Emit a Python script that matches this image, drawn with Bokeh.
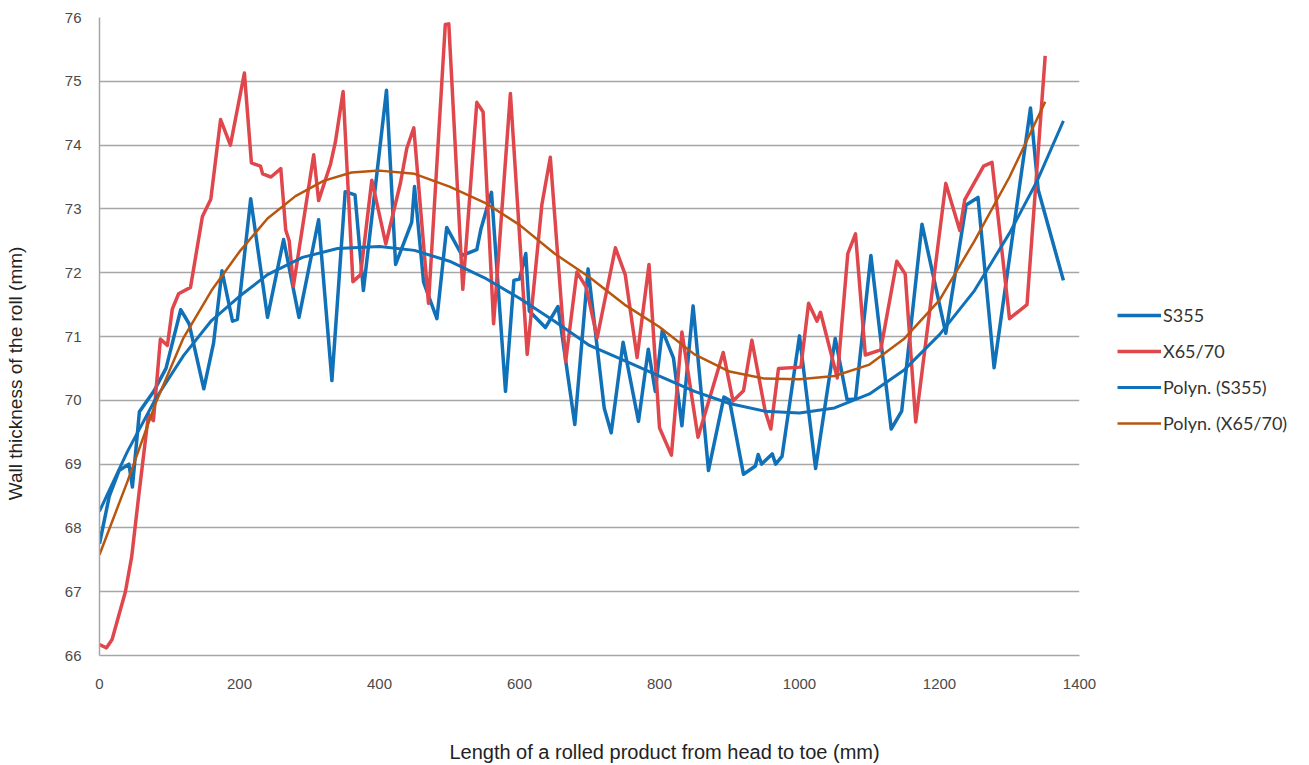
from bokeh.plotting import figure
from bokeh.layouts import row
from bokeh.models import Legend, LegendItem, FixedTicker, Range1d
from bokeh.embed import file_html
from bokeh.resources import INLINE

# S355 measured wall thickness
s355_x = [0, 14, 28, 42, 47, 57, 78, 95, 116, 128, 149, 163, 175, 190, 197, 216, 240, 263, 285,
          313, 332, 351, 365, 377, 410, 423, 446, 450, 463, 482, 496, 518, 539, 545, 560, 580,
          592, 600, 609, 614, 637, 655, 679, 698, 721, 731, 748, 770, 784, 794, 804, 820, 832,
          848, 870, 892, 900, 920, 937, 941, 946, 961, 966, 975, 1000, 1023, 1051, 1068, 1080,
          1102, 1131, 1146, 1175, 1209, 1238, 1255, 1278, 1330, 1341, 1377]
s355_y = [67.75, 68.5, 68.9, 69.0, 68.64, 69.82, 70.15, 70.5, 71.42, 71.2, 70.18, 70.9, 72.03,
          71.24, 71.27, 73.16, 71.3, 72.52, 71.3, 72.83, 70.31, 73.27, 73.22, 71.72, 74.86, 72.13,
          72.79, 73.35, 71.85, 71.28, 72.71, 72.27, 72.36, 72.69, 73.26, 70.14, 71.88, 71.9, 72.3,
          71.4, 71.14, 71.47, 69.62, 72.06, 69.88, 69.49, 70.91, 69.67, 70.8, 70.14, 71.1, 70.66,
          69.6, 71.48, 68.9, 70.05, 70.0, 68.84, 68.97, 69.15, 69.0, 69.16, 69.0, 69.12, 71.01,
          68.93, 70.97, 70.01, 70.02, 72.27, 69.55, 69.83, 72.76, 71.05, 73.06, 73.18, 70.51,
          74.58, 73.3, 71.88]

# X65/70 measured wall thickness
x65_x = [0, 10, 18, 37, 46, 56, 70, 77, 87, 97, 104, 113, 130, 147, 159, 173, 187, 207, 217,
         230, 233, 245, 259, 266, 271, 277, 306, 313, 330, 337, 348, 362, 373, 389, 409, 430,
         439, 449, 470, 494, 499, 519, 539, 548, 563, 587, 611, 632, 644, 666, 682, 695, 711,
         737, 751, 768, 785, 800, 817, 832, 855, 891, 905, 920, 932, 951, 959, 970, 1002, 1013,
         1025, 1030, 1054, 1069, 1080, 1094, 1116, 1139, 1151, 1166, 1209, 1229, 1236, 1263,
         1275, 1300, 1325, 1351]
x65_y = [66.17, 66.12, 66.25, 67.0, 67.55, 68.5, 69.78, 69.68, 70.96, 70.86, 71.43, 71.67, 71.77,
         72.88, 73.15, 74.4, 74.0, 75.13, 73.72, 73.67, 73.55, 73.5, 73.63, 72.67, 72.5, 71.79,
         73.85, 73.13, 73.7, 74.05, 74.84, 71.86, 71.97, 73.45, 72.45, 73.41, 73.95, 74.27,
         71.52, 75.89, 75.9, 71.74, 74.67, 74.52, 71.2, 74.81, 70.72, 73.07, 73.81, 70.61, 72.01,
         71.78, 70.98, 72.39, 71.97, 70.67, 72.13, 69.57, 69.14, 71.07, 69.42, 70.75, 69.99,
         70.15, 70.94, 69.83, 69.55, 70.5, 70.52, 71.52, 71.24, 71.38, 70.35, 72.3, 72.61, 70.71,
         70.79, 72.18, 71.98, 69.66, 73.4, 72.66, 73.14, 73.67, 73.73, 71.28, 71.5, 75.4]

# Polynomial trendlines
poly_s355_x = [0, 40, 80, 120, 160, 200, 240, 290, 340, 400, 450, 500, 550, 600, 650, 700, 750,
               800, 850, 900, 950, 1000, 1050, 1100, 1150, 1200, 1250, 1300, 1340, 1377]
poly_s355_y = [68.26, 69.2, 70.02, 70.7, 71.25, 71.63, 71.97, 72.24, 72.38, 72.41, 72.35, 72.18,
               71.92, 71.6, 71.24, 70.86, 70.62, 70.38, 70.14, 69.95, 69.83, 69.8, 69.88, 70.1,
               70.48, 71.03, 71.72, 72.62, 73.45, 74.38]
poly_x65_x = [0, 40, 80, 120, 160, 200, 240, 280, 320, 360, 400, 450, 500, 550, 600, 650, 700,
              750, 800, 850, 900, 950, 1000, 1050, 1100, 1150, 1200, 1250, 1300, 1351]
poly_x65_y = [67.58, 68.73, 69.95, 70.98, 71.72, 72.33, 72.85, 73.2, 73.44, 73.57, 73.6, 73.55,
              73.35, 73.1, 72.75, 72.3, 71.93, 71.5, 71.15, 70.72, 70.45, 70.34, 70.33, 70.38,
              70.56, 70.97, 71.57, 72.5, 73.5, 74.68]

series_names = ["S355", "X65/70", "Polyn. (S355)", "Polyn. (X65/70)"]
x_ticks = [0, 200, 400, 600, 800, 1000, 1200, 1400]
y_ticks = [66, 67, 68, 69, 70, 71, 72, 73, 74, 75, 76]

BLUE = "#1071b8"
RED = "#e0474c"
BROWN = "#b8560f"
colors = [BLUE, RED, BLUE, BROWN]
widths = [3.5, 3.5, 3, 2.5]

p = figure(width=1105, height=765, output_backend="svg", toolbar_location=None,
           x_range=Range1d(0, 1400), y_range=Range1d(66, 76),
           min_border_left=99, min_border_right=26, min_border_top=17, min_border_bottom=106)
p.outline_line_color = None
p.background_fill_color = "white"
p.border_fill_color = "white"

p.line(s355_x, s355_y, line_color=BLUE, line_width=3.5, line_join="round")
p.line(x65_x, x65_y, line_color=RED, line_width=3.5, line_join="round")
p.line(poly_s355_x, poly_s355_y, line_color=BLUE, line_width=3, line_join="round")
p.line(poly_x65_x, poly_x65_y, line_color=BROWN, line_width=2.5, line_join="round")

p.xgrid.grid_line_color = None
p.ygrid.grid_line_color = "#a6a6a6"
p.ygrid.grid_line_width = 1.5

for ax in (p.xaxis[0], p.yaxis[0]):
    ax.axis_line_color = "#a6a6a6"
    ax.axis_line_width = 1.5
    ax.major_tick_line_color = None
    ax.minor_tick_line_color = None
    ax.major_label_text_font = "Liberation Sans"
    ax.major_label_text_font_size = "15px"
    ax.major_label_text_color = "#4a4a4a"
    ax.axis_label_text_font = "Liberation Sans"
    ax.axis_label_text_font_size = "19px"
    ax.axis_label_text_font_style = "normal"
    ax.axis_label_text_color = "#222222"

NB = "\u00a0"
p.xaxis.ticker = FixedTicker(ticks=x_ticks)
p.yaxis.ticker = FixedTicker(ticks=y_ticks)
p.xaxis.axis_label = NB * 27 + "Length of a rolled product from head to toe (mm)"
p.xaxis.axis_label_text_font_size = "20px"
p.yaxis.axis_label = "Wall thickness of the roll (mm)" + NB * 14
p.xaxis.major_label_standoff = 17
p.xaxis.axis_label_standoff = 49
p.yaxis.major_label_standoff = 12
p.yaxis.axis_label_standoff = 36

# Legend panel
q = figure(width=204, height=765, output_backend="svg", toolbar_location=None,
           x_range=Range1d(0, 1), y_range=Range1d(0, 1),
           min_border=0, min_border_left=0, min_border_right=0, min_border_top=0, min_border_bottom=0)
q.axis.visible = False
q.grid.visible = False
q.outline_line_color = None
q.border_fill_color = "white"
items = []
for name, c, w in zip(series_names, colors, widths):
    r = q.line([5, 6], [5, 6], line_color=c, line_width=w)
    items.append(LegendItem(label=name, renderers=[r]))

legend = Legend(items=items, location=(12, 221), orientation="vertical")
legend.background_fill_alpha = 0
legend.border_line_color = None
legend.padding = 0
legend.margin = 0
legend.spacing = 14
legend.glyph_width = 44
legend.glyph_height = 20
legend.label_height = 20
legend.label_standoff = 2
legend.label_text_font = "Lato"
legend.label_text_font_size = "18px"
legend.label_text_color = "#333333"
q.add_layout(legend, "center")

layout = row(p, q, spacing=0)
open("out.html", "w").write(file_html(layout, INLINE))
